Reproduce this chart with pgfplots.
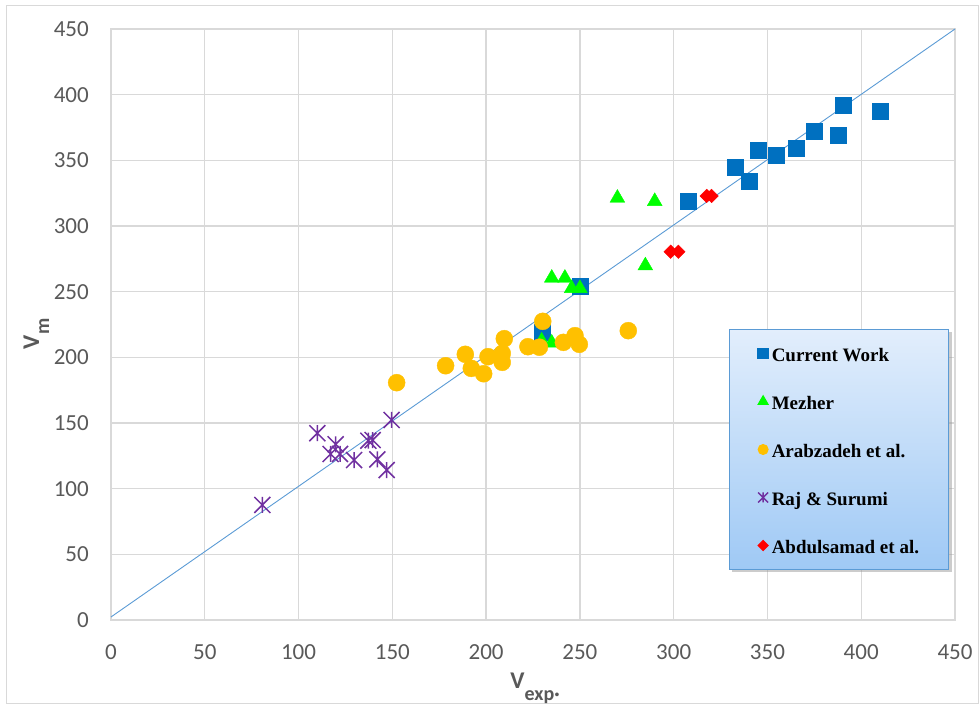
\documentclass[border=0pt]{standalone}
\usepackage{pgfplots}
\pgfplotsset{compat=1.18}
\usepackage{fontspec}
\setmainfont{Carlito}
\newfontfamily\legfont{Liberation Serif}
\usetikzlibrary{shadows}

\definecolor{cwblue}{HTML}{0070C0}
\definecolor{mzgreen}{HTML}{00FF00}
\definecolor{arorange}{HTML}{FFC000}
\definecolor{rspurple}{HTML}{7030A0}
\definecolor{abred}{HTML}{FF0000}
\definecolor{trendblue}{HTML}{5B9BD5}
\definecolor{gridgray}{HTML}{D9D9D9}
\definecolor{txtgray}{HTML}{595959}
\definecolor{legtop}{HTML}{E2EEFC}
\definecolor{legbot}{HTML}{9FC9F5}
\definecolor{legborder}{HTML}{5B9BD5}

\pgfdeclareplotmark{xstar}{%
  \pgfpathmoveto{\pgfqpoint{0pt}{\pgfplotmarksize}}%
  \pgfpathlineto{\pgfqpoint{0pt}{-\pgfplotmarksize}}%
  \pgfpathmoveto{\pgfqpoint{-\pgfplotmarksize}{-\pgfplotmarksize}}%
  \pgfpathlineto{\pgfqpoint{\pgfplotmarksize}{\pgfplotmarksize}}%
  \pgfpathmoveto{\pgfqpoint{-\pgfplotmarksize}{\pgfplotmarksize}}%
  \pgfpathlineto{\pgfqpoint{\pgfplotmarksize}{-\pgfplotmarksize}}%
  \pgfusepathqstroke}

\begin{document}
\begin{tikzpicture}
\useasboundingbox (-111pt,-86pt) rectangle (869pt,620pt);
\draw[gridgray, line width=1pt] (-104pt,-84pt) rectangle (867pt,614pt);
\begin{axis}[
  scale only axis,
  width=844pt, height=591pt,
  at={(0pt,0pt)}, anchor=south west,
  xmin=0, xmax=450, ymin=0, ymax=450,
  enlargelimits=false,
  clip=false,
  xtick={0,50,...,450}, ytick={0,50,...,450},
  grid=major,
  major grid style={draw=gridgray, line width=1.3pt},
  axis line style={draw=gridgray, line width=1.3pt},
  major tick length=0pt,
  /pgf/number format/assume math mode=true,
  ticklabel style={font=\fontsize{23}{23}\selectfont, text=txtgray},
  xticklabel style={anchor=center, yshift=-32pt},
  yticklabel style={anchor=east, inner sep=0pt, xshift=-22pt},
  every axis x label/.style={at={(axis description cs:0.5024,-0.1151)}, anchor=base,
     font=\bfseries\fontsize{24}{24}\selectfont, text=txtgray},
  every axis y label/.style={at={(axis description cs:-0.0853,0.484)}, anchor=base, rotate=90,
     font=\bfseries\fontsize{24}{24}\selectfont, text=txtgray},
  xlabel={V\raisebox{-12pt}{\fontsize{20}{20}\selectfont exp·}},
  ylabel={V\raisebox{-10pt}{\fontsize{20}{20}\selectfont m}},
  legend cell align=left,
  legend style={
    at={(axis description cs:0.7322,0.4924)}, anchor=north west,
    draw=legborder, line width=1pt,
    top color=legtop, bottom color=legbot,
    drop shadow={shadow xshift=3pt, shadow yshift=-3pt, fill=black!40},
    inner xsep=27.5pt, inner ysep=12.5pt,
    row sep=25pt,
    font=\legfont\bfseries\fontsize{19}{20}\selectfont,
    /tikz/every odd column/.append style={column sep=0.5pt},
    /tikz/every even column/.append style={text height=17.5pt, text depth=4.5pt, inner sep=0pt},
  },
  legimg/.style={legend image code/.code={%
      \path (-5.5pt,0pt) (5.5pt,0pt);
      \draw plot coordinates {(0pt,0pt)};}},
]
% Current Work
\addplot[only marks, mark=square*, color=cwblue, mark size=8pt, forget plot] coordinates {
 (230,219) (250,254) (307.5,319) (332.7,344.4) (340.2,333.8) (345,357.4)
 (354.9,354.1) (365.2,359.4) (374.8,371.8) (387.6,369.5) (390.3,391.6) (410,387.6)
};
% Mezher
\addplot[only marks, mark=triangle*, color=mzgreen, mark size=8.5pt, forget plot] coordinates {
 (229.6,212.5) (235,211) (235,260.4) (242,260.4) (245.6,252.5) (250,252.5)
 (270,321.3) (284.9,269.8) (289.9,318.8)
};
% Arabzadeh et al.
\addplot[only marks, mark=*, color=arorange, mark size=8.5pt, forget plot] coordinates {
 (152.3,180.7) (178.4,193.6) (188.9,202.3) (192.1,191.6) (198.7,187.5) (201,200.5)
 (208.6,203) (208.6,196.2) (209.7,214.2) (222.3,208.1) (228.4,207.7) (230.2,227.4)
 (241.2,211.4) (247.4,216.5) (249.7,209.9) (275.8,220.3)
};
% Raj & Surumi
\addplot[only marks, mark=xstar, color=rspurple, mark size=8pt, line width=1.5pt, forget plot] coordinates {
 (80.7,87.6) (110,142.2) (119.8,133.8) (117.1,126.4) (122.1,126.4) (129.6,121.8)
 (137.2,136.5) (139.5,137) (142,122.3) (147,114.2) (149.6,152.3)
};
% Abdulsamad et al.
\addplot[only marks, mark=square*, mark options={rotate=45}, color=abred, mark size=4.8pt, forget plot] coordinates {
 (317.6,322.9) (320.2,322.9) (298.4,280.4) (302.5,280.4)
};
% trend line
\addplot[trendblue, line width=0.9pt, forget plot] coordinates {(0,2.3) (450,450)};

\addlegendimage{legimg, mark=square*, color=cwblue, mark size=5.2pt}
\addlegendentry{Current Work}
\addlegendimage{legimg, mark=triangle*, color=mzgreen, mark size=5.8pt}
\addlegendentry{Mezher}
\addlegendimage{legimg, mark=*, color=arorange, mark size=5pt}
\addlegendentry{Arabzadeh et al.}
\addlegendimage{legimg, mark=xstar, color=rspurple, mark size=5pt, line width=1.3pt}
\addlegendentry{Raj \& Surumi}
\addlegendimage{legimg, mark=square*, mark options={rotate=45}, color=abred, mark size=3.6pt}
\addlegendentry{Abdulsamad et al.}
\end{axis}
\end{tikzpicture}
\end{document}
